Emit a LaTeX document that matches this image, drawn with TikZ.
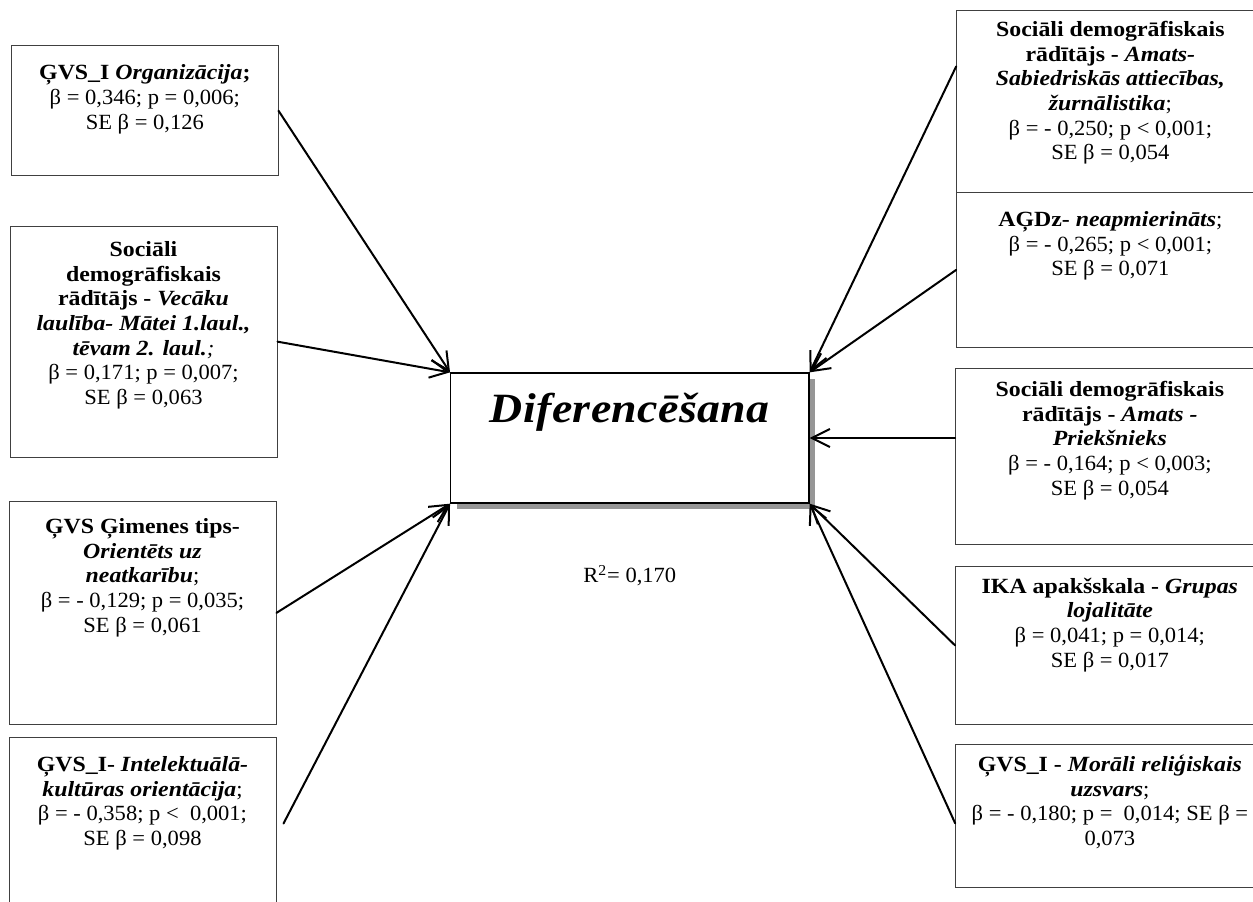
\documentclass[tikz,border=0pt]{standalone}
\usepackage{fontspec}
\setmainfont{Liberation Serif}[UprightFeatures={FakeStretch=1.04}, ItalicFeatures={FakeStretch=1.04},
    BoldFeatures={FakeStretch=1.1}, BoldItalicFeatures={FakeStretch=1.1}]
\usetikzlibrary{arrows.meta,positioning,fit,shadows}
\definecolor{bdr}{RGB}{64,64,64}
\definecolor{shd}{RGB}{150,150,150}
\begin{document}
\begin{tikzpicture}[x=0.6pt,y=-0.6pt,
    bx/.style={draw=bdr, line width=0.6pt, inner sep=0pt},
    txt/.style={align=center, inner sep=0pt, font=\fontsize{13}{14.8}\selectfont},
    arr/.style={line width=1.2pt, line cap=round, -{Straight Barb[length=10.8pt,width=10.8pt]}}]
    \useasboundingbox (0,0) rectangle (1253,901);
    \clip (0,0) rectangle (1253,901);

    % left
    \node[bx, fit={(11.7,45.7) (278,175.7)}] (l1) {};
    \node[bx, fit={(10,226) (277,457.3)}] (l2) {};
    \node[bx, fit={(9,501.7) (276,724)}] (l3) {};
    \node[bx, fit={(9,737) (276,910)}] (l4) {};
    \node[txt, below=10.3pt of l1.north] {\strut\textbf{ĢVS\_I \textit{Organizācija};}\\
        β = 0,346; p = 0,006;\\ SE β = 0,126};
    \node[txt, below=8pt of l2.north] {\strut\textbf{Sociāli}\\ \textbf{demogrāfiskais}\\
        \textbf{rādītājs - \textit{Vecāku}}\\ \textbf{\textit{laulība- Mātei 1.laul.,}}\\
        \textbf{\textit{tēvam 2. laul.}}\textit{;}\\ β = 0,171; p = 0,007;\\ SE β = 0,063};
    \node[txt, below=8.8pt of l3.north] {\strut\textbf{ĢVS Ģimenes tips-}\\ \textbf{\textit{Orientēts uz}}\\
        \textbf{\textit{neatkarību}};\\ β = - 0,129; p = 0,035;\\ SE β = 0,061};
    \node[txt, below=10.4pt of l4.north] {\strut\textbf{ĢVS\_I- \textit{Intelektuālā-}}\\
        \textbf{\textit{kultūras orientācija}};\\ β = - 0,358; p <~ 0,001;\\ SE β = 0,098};

    % right
    \node[bx, fit={(956.7,10.7) (1264,192)}] (r1) {};
    \node[bx, fit={(956.7,192) (1264,347.7)}] (r2) {};
    \node[bx, fit={(955.7,368.3) (1264,544.3)}] (r3) {};
    \node[bx, fit={(955.7,566.7) (1264,724.3)}] (r4) {};
    \node[bx, fit={(955.7,744.3) (1264,887.7)}] (r5) {};
    \node[txt, below=5.2pt of r1.north] {\strut\textbf{Sociāli demogrāfiskais}\\
        \textbf{rādītājs - \textit{Amats-}}\\ \textbf{\textit{Sabiedriskās attiecības,}}\\
        \textbf{\textit{žurnālistika}};\\ β = - 0,250; p < 0,001;\\ SE β = 0,054};
    \node[txt, below=10.4pt of r2.north] {\strut\textbf{AĢDz- \textit{neapmierināts}};\\
        β = - 0,265; p < 0,001;\\ SE β = 0,071};
    \node[txt, below=6.6pt of r3.north] {\strut\textbf{Sociāli demogrāfiskais}\\
        \textbf{rādītājs - \textit{Amats -}}\\ \textbf{\textit{Priekšnieks}}\\
        β = - 0,164; p < 0,003;\\ SE β = 0,054};
    \node[txt, below=5.6pt of r4.north] {\strut\textbf{IKA apakšskala - \textit{Grupas}}\\
        \textbf{\textit{lojalitāte}}\\ β = 0,041; p = 0,014;\\ SE β = 0,017};
    \node[txt, below=6pt of r5.north] {\strut\textbf{ĢVS\_I - \textit{Morāli reliģiskais}}\\
        \textbf{\textit{uzsvars}};\\ β = - 0,180; p = ~0,014; SE β =\\ 0,073};

    % centre
    \node[draw=black, line width=0.8pt, fill=white, inner sep=0pt, fit={(450.7,373) (809,503)},
        drop shadow={shadow xshift=3.6pt, shadow yshift=-3.6pt, fill=shd, opacity=1}] (dv) {};
    \node[anchor=base, inner sep=0pt, font=\fontsize{25}{30}\selectfont\bfseries\itshape\addfontfeature{LetterSpace=1}]
        at ([yshift=-30pt]dv.north) {Diferencēšana};
    \node[txt, anchor=base] at ([yshift=-47.2pt]dv.south) {R\textsuperscript{2}= 0,170};

    \draw[arr] (l1.east) -- (dv.north west);
    \draw[arr] (l2.east) -- (dv.north west);
    \draw[arr] (l3.east) -- (dv.south west);
    \draw[arr] ([xshift=4.2pt]l4.east) -- (dv.south west);
    \draw[arr] ([yshift=21pt]r1.west) -- (dv.north east);
    \draw[arr] (r2.west) -- (dv.north east);
    \draw[arr] (r3.west |- dv.east) -- (dv.east);
    \draw[arr] (r4.west) -- (dv.south east);
    \draw[arr] ([yshift=-4.4pt]r5.west) -- (dv.south east);
\end{tikzpicture}
\end{document}
